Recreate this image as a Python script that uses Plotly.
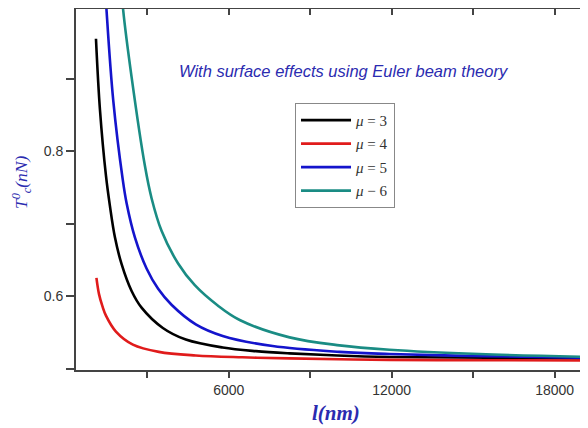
import plotly.graph_objects as go

# Data (l in nm, T in nN)
l_mu3 = [1113, 1260, 1481, 1628, 1811, 2057, 2425, 2792, 3575, 4420, 5779, 7000, 8241, 10000, 11915, 15500, 19190]
T_mu3 = [0.955, 0.857, 0.766, 0.724, 0.681, 0.644, 0.607, 0.584, 0.556, 0.540, 0.529, 0.524, 0.521, 0.518, 0.516, 0.515, 0.514]

l_mu4 = [1130, 1223, 1350, 1481, 1848, 2473, 3428, 4787, 6500, 8241, 11915, 15500, 19190]
T_mu4 = [0.625, 0.603, 0.586, 0.573, 0.551, 0.533, 0.523, 0.518, 0.5155, 0.514, 0.512, 0.5115, 0.511]

l_mu5 = [1400, 1506, 1749, 2094, 2241, 2546, 2976, 3402, 3894, 4787, 5779, 7616, 10078, 11915, 15500, 19190]
T_mu5 = [1.062, 0.992, 0.870, 0.762, 0.728, 0.681, 0.638, 0.610, 0.588, 0.561, 0.545, 0.531, 0.523, 0.520, 0.517, 0.515]

l_mu6 = [1950, 2116, 2425, 2913, 3160, 3527, 4137, 4751, 5596, 6404, 8241, 10078, 11915, 15222, 19190]
T_mu6 = [1.075, 0.994, 0.902, 0.780, 0.735, 0.690, 0.645, 0.615, 0.587, 0.567, 0.543, 0.532, 0.526, 0.520, 0.516]

names = ["<i>\u03bc</i> = 3", "<i>\u03bc</i> = 4", "<i>\u03bc</i> = 5", "<i>\u03bc</i> \u2212 6"]
colors = ["#000000", "#e01b1b", "#1414cc", "#1a8c84"]

x_tickvals = [3000, 6000, 9000, 12000, 15000, 18000]
x_ticktext = ["", "6000", "", "12000", "", "18000"]
y_tickvals = [0.5, 0.6, 0.7, 0.8, 0.9]
y_ticktext = ["", "0.6", "", "0.8", ""]

x_range = [378, 19190]
y_range = [0.498, 0.996]

fig = go.Figure()
series = [(l_mu3, T_mu3), (l_mu4, T_mu4), (l_mu5, T_mu5), (l_mu6, T_mu6)]
for i, ((lx, ty), nm, c) in enumerate(zip(series, names, colors)):
    fig.add_trace(go.Scatter(
        x=lx, y=ty, mode="lines", name=nm, legendgroup=str(i),
        line=dict(color=c, width=2.6, shape="spline", smoothing=1.0),
    ))

# invisible trace for top/right inner ticks
fig.add_trace(go.Scatter(x=[x_range[0]], y=[y_range[0]], xaxis="x2", yaxis="y2",
                         mode="markers", marker=dict(opacity=0), showlegend=False,
                         hoverinfo="skip"))

axis_col = "#444444"
fig.update_layout(
    width=580, height=420,
    margin=dict(l=68, r=1, t=1, b=58),
    plot_bgcolor="white", paper_bgcolor="white",
    font=dict(family="Arial, Liberation Sans, sans-serif", color="#333333", size=14),
    xaxis=dict(range=x_range, tickvals=x_tickvals, ticktext=x_ticktext,
               ticks="outside", ticklen=6, tickwidth=1.5, tickcolor=axis_col,
               showline=True, linecolor=axis_col, linewidth=1.8, showgrid=False,
               zeroline=False, tickfont=dict(size=14, color="#333333")),
    yaxis=dict(range=y_range, tickvals=y_tickvals, ticktext=y_ticktext,
               ticks="outside", ticklen=8, tickwidth=1.5, tickcolor=axis_col,
               showline=True, linecolor=axis_col, linewidth=1.8, showgrid=False,
               zeroline=False, tickfont=dict(size=14, color="#333333")),
    xaxis2=dict(range=x_range, overlaying="x", side="top", tickvals=x_tickvals,
                showticklabels=False, ticks="inside", ticklen=6, tickwidth=1.5,
                tickcolor=axis_col, showline=True, linecolor=axis_col, linewidth=1.8,
                showgrid=False, zeroline=False),
    yaxis2=dict(range=y_range, overlaying="y", side="right", tickvals=y_tickvals,
                showticklabels=False, ticks="inside", ticklen=6, tickwidth=1.2,
                tickcolor="#bbbbbb", showline=True, linecolor="#dddddd", linewidth=1,
                showgrid=False, zeroline=False),
    legend=dict(x=0.4286, y=0.74, xanchor="left", yanchor="top",
                bgcolor="white", bordercolor="#888888", borderwidth=1,
                traceorder="grouped", tracegroupgap=1,
                font=dict(family="Times New Roman, Liberation Serif, serif", size=15, color="#333333"),
                itemwidth=50, entrywidth=60),
    showlegend=True,
)

fig.add_annotation(text="<i>With surface effects using Euler beam theory</i>",
                   xref="paper", yref="paper", x=0.524, y=0.859, showarrow=False,
                   font=dict(family="Arial, Liberation Sans, sans-serif", size=16.5, color="#2b2bb0"))
fig.add_annotation(text="<b><i>l(nm)</i></b>", xref="paper", yref="paper",
                   x=0.509, y=-0.118, yanchor="middle", showarrow=False,
                   font=dict(family="Times New Roman, Liberation Serif, serif", size=21, color="#2b2bb0"))
fig.add_annotation(text="<i>T<sup>0</sup><sub>c</sub>(nN)</i>", xref="paper", yref="paper",
                   x=-0.108, y=0.52, xanchor="center", yanchor="middle", showarrow=False,
                   textangle=-90,
                   font=dict(family="Times New Roman, Liberation Serif, serif", size=17.5, color="#2b2bb0"))

fig.write_html("out.html")
